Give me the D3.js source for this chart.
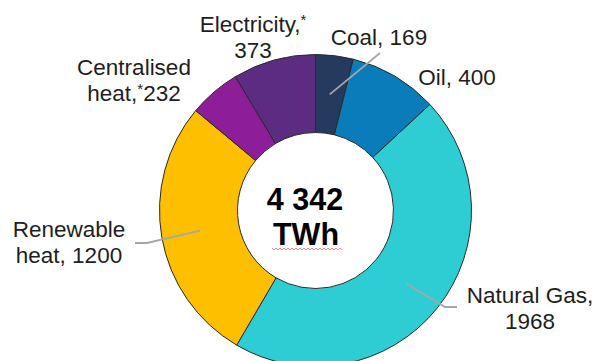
<!DOCTYPE html>
<html><head><meta charset="utf-8">
<script src="https://cdn.jsdelivr.net/npm/d3@7"></script>
<style>
html,body{margin:0;padding:0;background:#fff;}
svg{display:block;font-family:"Liberation Sans",Arial,sans-serif;}
</style></head>
<body><svg id="c" width="597" height="361"></svg>
<script>
// data
const categories = ["Coal", "Oil", "Natural Gas", "Renewable heat", "Centralised heat", "Electricity"];
const values = [169, 400, 1968, 1200, 232, 373];
const colors = ["#253a5e", "#0a7cba", "#2ecdd3", "#fdbf00", "#8d1d98", "#5c2c82"];
const totalLabel = ["4 342", "TWh"];

// layout (positions only)
const W = 597, H = 361, cx = 315.5, cy = 210.5, rOuter = 156, rInner = 78;
const svg = d3.select("#c");
const g = svg.append("g").attr("transform", `translate(${cx},${cy})`);

const pie = d3.pie().sort(null).value(d => d.v);
const data = pie(categories.map((c, i) => ({c, v: values[i], col: colors[i]})));
const arc = d3.arc().innerRadius(rInner).outerRadius(rOuter);

g.selectAll("path.slice").data(data).join("path")
  .attr("class", "slice")
  .attr("d", arc)
  .attr("fill", d => d.data.col)
  .attr("stroke", "#2a2a2a")
  .attr("stroke-width", 1);

// leader lines from slice centroids
const leaders = {
  "Coal": [[380, 53]],
  "Natural Gas": [[445, 307], [457, 307]],
  "Renewable heat": [[147, 243], [135, 243]]
};
data.forEach(d => {
  const pts = leaders[d.data.c];
  if (!pts) return;
  const c = arc.centroid(d);
  const all = [[c[0] + cx, c[1] + cy]].concat(pts);
  svg.append("path")
    .attr("d", d3.line()(all))
    .attr("fill", "none")
    .attr("stroke", "#a6a6a6")
    .attr("stroke-width", 1.8);
});

// labels
const fs = 22.5;
const txtColor = "#1e1e1e";
function label(lines, x, y, anchor) {
  const t = svg.append("text").attr("font-size", fs).attr("fill", txtColor)
    .attr("text-anchor", anchor || "middle");
  lines.forEach((ln, i) => {
    const ts = t.append("tspan").attr("x", x).attr("y", y + i * 26);
    let shift = 0;
    ln.forEach(part => {
      const sp = ts.append("tspan").text(part.t);
      if (part.sup) {
        sp.attr("font-size", 15).attr("dy", -7 - shift);
        shift = -7;
      } else {
        if (shift) sp.attr("dy", -shift);
        shift = 0;
      }
    });
  });
}
const lab = {};
categories.forEach((c, i) => lab[c] = values[i]);
label([[{t: "Electricity,"}, {t: "*", sup: true}], [{t: String(lab["Electricity"])}]], 253, 32);
label([[{t: "Coal, " + lab["Coal"]}]], 379, 45);
label([[{t: "Oil, " + lab["Oil"]}]], 457, 85);
label([[{t: "Centralised"}], [{t: "heat,"}, {t: "*", sup: true}, {t: String(lab["Centralised heat"])}]], 134, 75);
label([[{t: "Renewable"}], [{t: "heat, " + lab["Renewable heat"]}]], 69, 237);
label([[{t: "Natural Gas,"}], [{t: String(lab["Natural Gas"])}]], 530, 303);

// centre text
svg.append("text").attr("x", 305).attr("y", 210).attr("text-anchor", "middle")
  .attr("font-size", 30.5).attr("font-weight", "bold").attr("fill", "#000").text(totalLabel[0]);
svg.append("text").attr("x", 306).attr("y", 245).attr("text-anchor", "middle")
  .attr("font-size", 30.5).attr("font-weight", "bold").attr("fill", "#000").text(totalLabel[1]);
// spell-check squiggle under TWh
let sq = [];
for (let x = 272, k = 0; x <= 343; x += 2, k++) sq.push([x, 249 + (k % 2 ? 1 : -1)]);
svg.append("path").attr("d", d3.line()(sq)).attr("fill", "none")
  .attr("stroke", "#f08080").attr("stroke-width", 0.9);
</script></body></html>
